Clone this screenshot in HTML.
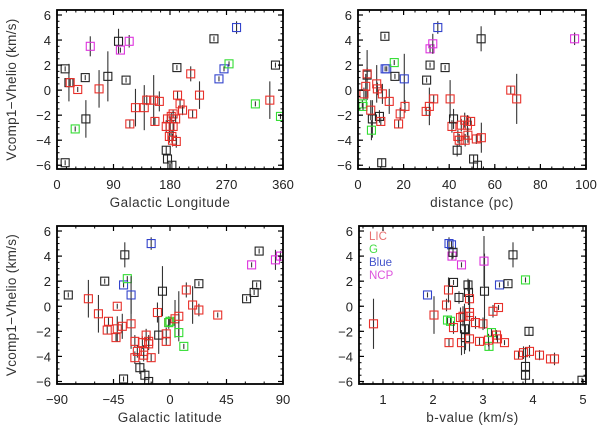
<!DOCTYPE html>
<html><head><meta charset="utf-8"><style>
html,body{margin:0;padding:0;background:#fff;}
svg{display:block;font-family:"Liberation Sans",sans-serif;}
</style></head><body>
<svg id="chart" width="600" height="430" viewBox="0 0 600 430" xmlns="http://www.w3.org/2000/svg"></svg>
<script>
// ---- Panel 1: Galactic longitude ----
const lonX=[13,19,21,33,29,45,46,53,67,81,98,101,115,110,116,125,139,143,154,156,163,174,176,174,176,180,179,183,182,185,184,183,190,192,191,196,200,185,189,213,216,227,250,286,258,266,274,316,339,348,356,13];
const lonY=[1.7,0.6,0.6,0.05,-3.1,1.0,-2.3,3.5,0.1,1.1,3.9,3.2,3.9,0.8,-2.7,-1.4,-1.4,-0.8,-0.8,-2.5,-0.9,-4.8,-5.5,-2.9,-2.3,-2.9,-3.7,-3.7,-2.1,-2.9,-4.0,-6.0,-4.1,-0.4,1.8,-1.1,-1.6,-1.9,-2.3,1.3,-1.9,-0.4,4.1,5.0,0.9,1.7,2.1,-1.1,-0.8,2.0,-2.1,-5.8];
const lonC="kkrrgkkmrkkmmkrrrrrrrkkrrrrrrrrkrrkrrrrrrrkbbbggrkgk";
const lonE=[0.2,1.5,0.3,0.2,0.2,0.2,1.5,0.8,1.5,2,1,0.2,0.5,0.2,0.3,1.5,1.8,0.4,2,0.3,0.8,0.3,0.3,0.5,0.3,0.8,0.5,0.5,0.3,0.5,0.5,0.3,0.5,0.3,0.2,0.3,0.4,0.3,0.3,0.6,0.3,1.1,0.2,0.5,0.2,0.2,0.2,0.2,1.5,0.2,0.2,0.2];
// ---- Panel 2: distance ----
const distX=[11.8,35,31.6,32.8,54,95,4,4,3.4,2.6,1.9,2.2,6.3,5.9,5.6,8.2,8.5,10.7,13.7,9.4,10,10.4,11.9,12.6,15.9,16.2,20.3,20.6,18.5,17.8,30.1,31.6,29.9,31.3,33.2,38.2,40.4,41.2,41.9,43.5,43.8,44.4,45.3,46.8,48,47,49.4,48.2,51.9,54.1,50.7,52.4,67,69.6];
const distY=[4.3,5.0,3.3,3.7,4.1,4.1,1.2,1.3,0.3,-0.3,-1.1,-1.3,-2.3,-3.2,-1.6,0.5,0.1,-0.3,-0.9,-2.1,-2.5,-5.8,1.7,1.7,2.2,1.1,0.9,-1.3,-1.9,-2.7,0.8,2.0,-1.7,-1.3,-0.7,1.8,-0.7,-2.9,-2.3,-4.8,-3.7,-4.0,-2.8,-2.4,-2.8,-4.0,-2.5,-3.6,-3.9,-3.8,-5.5,-6.0,0.0,-0.7];
const distC="kbmmkmkrrrggkgrrrrrkrkbbgkbrrrkkrrrkrrkkrrrrrrrrrrkkrr";
const distE=[0.2,0.5,0.3,0.8,1,0.5,2,0.5,1,0.5,0.3,0.3,1.5,0.8,0.8,1.5,0.5,0.8,1,0.5,0.3,0.3,0.2,0.2,0.2,0.2,2,0.5,0.5,0.3,0.2,0.2,0.3,1.5,0.3,0.2,1.5,0.5,0.8,0.5,0.5,0.5,0.5,0.6,0.8,0.5,0.3,0.6,0.4,1.2,0.3,0.3,0.3,2];
// ---- Panel 3: Galactic latitude ----
const latX=[-81,-65,-57,-52,-49,-50,-43,-42,-42,-36,-38,-37,-34,-31,-31,-28,-28,-24,-20,-17,-37,-26,-22,-21,-21,-19,-17,-15,-17,-15,-10,-9,-6,-3,-3,-1,0,-1,4,7,7,13,11,23,18,23,38,61,67,69,71,65,84,88];
const latY=[0.9,0.6,-0.6,2.0,-1.2,-1.9,-2.5,0,-1.8,4.1,-1.6,1.7,2.2,0.9,-1.4,-2.8,-4.1,-4.9,-5.5,-6,-5.8,-3.6,-2.9,-3.6,-3.9,-2.3,-2.8,-4.1,-3,5.0,-0.5,-2.3,1.2,-2.2,-2.8,-1.3,-1.2,-1.3,-1,-0.8,-2.1,1.3,-3.2,1.8,0.1,-0.3,-0.7,0.6,1.1,1.7,4.4,3.3,3.7,4.0];
const latC="krrkrrrrrkrbgbrrrkkkkrrrrrrrrbrkkrrrggrrgrgkrrrkkkkmmm";
const latE=[0.2,1.5,1.5,0.2,0.3,0.3,0.3,0.2,1,1,1,0.2,0.2,1.5,2,0.5,0.5,0.5,0.5,0.3,0.2,0.5,0.5,0.5,0.5,0.5,0.5,0.3,0.5,0.5,0.8,1.5,2,0.5,0.3,0.5,0.3,0.3,1.5,2,0.3,0.6,0.2,0.2,1.5,0.5,0.2,0.2,0.2,0.2,0.2,0.2,0.8,0.4];
// ---- Panel 4: b-value ----
const bX=[0.81,1.89,2.02,2.27,2.31,2.29,2.35,2.41,2.32,2.32,2.37,2.38,2.4,2.41,2.52,2.57,2.55,2.6,2.57,2.63,2.65,2.7,2.71,2.73,2.73,2.73,2.73,2.85,2.93,3.0,3.03,3.02,3.12,3.11,3.17,3.2,3.31,3.27,3.29,3.43,3.33,3.5,3.6,3.85,3.71,3.81,3.93,3.92,3.85,3.85,4.13,4.35,4.43,4.98];
const bY=[-1.4,0.9,-0.7,0.1,1.3,-1.1,-1.2,-1.7,-2.9,5.0,4.9,4.0,4.3,1.9,0.7,3.3,-0.9,-0.8,-2.9,-1.8,-2.5,1.7,1.1,0.6,-0.5,-0.8,-2.6,-1.3,-2.8,-1.4,1.2,3.6,-3.2,-2.7,-2.1,-0.4,-0.1,-2.3,-2.6,-2.9,1.7,1.8,4.1,2.1,-3.9,-3.7,-3.6,-2.0,-4.8,-5.5,-3.9,-4.2,-4.2,-5.9];
const bC="rbrrrggrrbbmkkkmrrrkkkkrrrrrrrkmgrgrrrrrbkkgrrrkkkrrrk";
const bE=[2,0.2,1.5,0.5,1,0.3,0.3,0.5,0.3,0.5,0.3,0.3,0.5,0.2,0.5,0.2,0.8,0.8,1,2,1,0.5,1,1.5,1,1,1,0.5,0.3,0.5,3,2,0.3,0.5,0.3,0.5,0.2,0.4,0.3,0.2,0.2,0.2,1,0.2,0.3,0.5,0.5,0.3,1.5,0.5,0.4,0.3,0.5,0.2];
// tick labels
const lonTicks=[0,90,180,270,360];
const distTicks=[0,20,40,60,80,100];
const latTicks=[-90,-45,0,45,90];
const bTicks=[1,2,3,4,5];
const yTicks=[-6,-4,-2,0,2,4,6];
const legendLabels=["LIC","G","Blue","NCP"];

const COL={k:"#222",r:"#e8302a",g:"#33dd33",b:"#3344cc",m:"#dd33dd"};
const svg=document.getElementById('chart');
const NS="http://www.w3.org/2000/svg";
function mk(tag,attrs,parent){const e=document.createElementNS(NS,tag);for(const k in attrs)e.setAttribute(k,attrs[k]);(parent||svg).appendChild(e);return e;}

const panels=[
 {name:'longitude',L:57,R:283,T:10,B:169,x0:0,x1:360,y0:-6.3,y1:6.4,xt:lonTicks,xm:15,xs:lonX,ys:lonY,cs:lonC,es:lonE,title:'Galactic Longitude',ytitle:true},
 {name:'distance',L:358,R:586,T:10,B:169,x0:0,x1:100,y0:-6.3,y1:6.4,xt:distTicks,xm:5,xs:distX,ys:distY,cs:distC,es:distE,title:'distance (pc)',ytitle:false},
 {name:'latitude',L:57,R:283,T:226,B:384,x0:-90,x1:90,y0:-6.2,y1:6.4,xt:latTicks,xm:15,xs:latX,ys:latY,cs:latC,es:latE,title:'Galactic latitude',ytitle:true},
 {name:'b-value',L:359,R:586,T:226,B:384,x0:0.52,x1:5.06,y0:-6.2,y1:6.4,xt:bTicks,xm:0.2,xs:bX,ys:bY,cs:bC,es:bE,title:'b-value (km/s)',ytitle:false,legend:true}
];

panels.forEach((p,pi)=>{
 const g=mk('g',{});
 
 
 const sx=v=>p.L+(v-p.x0)/(p.x1-p.x0)*(p.R-p.L);
 const sy=v=>p.B-(v-p.y0)/(p.y1-p.y0)*(p.B-p.T);
 const cid='clip'+pi;
 const cp=mk('clipPath',{id:cid},g);mk('rect',{x:p.L,y:p.T,width:p.R-p.L,height:p.B-p.T},cp);
 const marks=mk('g',{'clip-path':'url(#'+cid+')'},g);
 
 
 for(let i=0;i<p.xs.length;i++){
  const x=sx(p.xs[i]),y=sy(p.ys[i]);
  const eb=mk('line',{x1:x,x2:x,y1:sy(p.ys[i]+p.es[i]),y2:sy(p.ys[i]-p.es[i]),stroke:'#333','stroke-width':1.1},marks);
  
  
  const r=mk('rect',{x:x-4,y:y-4,width:8,height:8,fill:'none',stroke:COL[p.cs[i]]||'#222','stroke-width':1.1},marks);
  
  
 }
 const fr=mk('rect',{x:p.L,y:p.T,width:p.R-p.L,height:p.B-p.T,fill:'none',stroke:'#000','stroke-width':1.8},g);
 
 
 for(let v=Math.ceil(p.x0/p.xm)*p.xm;v<=p.x1+1e-9;v+=p.xm){
  const x=sx(v);
  mk('line',{x1:x,x2:x,y1:p.B,y2:p.B-2.5,stroke:'#000','stroke-width':1},g);
  mk('line',{x1:x,x2:x,y1:p.T,y2:p.T+2.5,stroke:'#000','stroke-width':1},g);
 }
 p.xt.forEach(v=>{
  const x=sx(v);
  mk('line',{x1:x,x2:x,y1:p.B,y2:p.B-5,stroke:'#000','stroke-width':1.2},g);
  mk('line',{x1:x,x2:x,y1:p.T,y2:p.T+5,stroke:'#000','stroke-width':1.2},g);
  const t=mk('text',{x:x,y:p.B+20,'text-anchor':'middle','font-size':13,fill:'#222'},g);
  t.textContent=(v<0?'\u2212'+(-v):String(v));
  
  
 });
 for(let v=-6;v<=6.01;v+=0.5){
  const y=sy(v);
  mk('line',{x1:p.L,x2:p.L+2.5,y1:y,y2:y,stroke:'#000','stroke-width':1},g);
  mk('line',{x1:p.R,x2:p.R-2.5,y1:y,y2:y,stroke:'#000','stroke-width':1},g);
 }
 yTicks.forEach(v=>{
  const y=sy(v);
  mk('line',{x1:p.L,x2:p.L+5,y1:y,y2:y,stroke:'#000','stroke-width':1.2},g);
  mk('line',{x1:p.R,x2:p.R-5,y1:y,y2:y,stroke:'#000','stroke-width':1.2},g);
  const t=mk('text',{x:p.L-6,y:y+5,'text-anchor':'end','font-size':13,fill:'#222'},g);
  t.textContent=(v<0?'\u2212'+(-v):String(v));
  
  
 });
 const xt=mk('text',{x:(p.L+p.R)/2,y:p.B+38,'text-anchor':'middle','font-size':13.5,fill:'#333','letter-spacing':'0.5'},g);
 xt.textContent=p.title;
 
 
 if(p.ytitle){
  const cy=(p.T+p.B)/2;
  const yt=mk('text',{x:16,y:cy,'text-anchor':'middle','font-size':13.5,fill:'#333',transform:'rotate(-90 16 '+cy+')','letter-spacing':'0.3'},g);
  yt.textContent='Vcomp1\u2212Vhelio (km/s)';
  
  
 }
 if(p.legend){
  const lc=['#e87070','#44dd44','#4455cc','#dd55dd'];
  legendLabels.forEach((s,i)=>{
   const t=mk('text',{x:369,y:240+i*13,'font-size':11.5,fill:lc[i]},g);
   t.textContent=s;
   
   
  });
 }
});
</script>
</body></html>
